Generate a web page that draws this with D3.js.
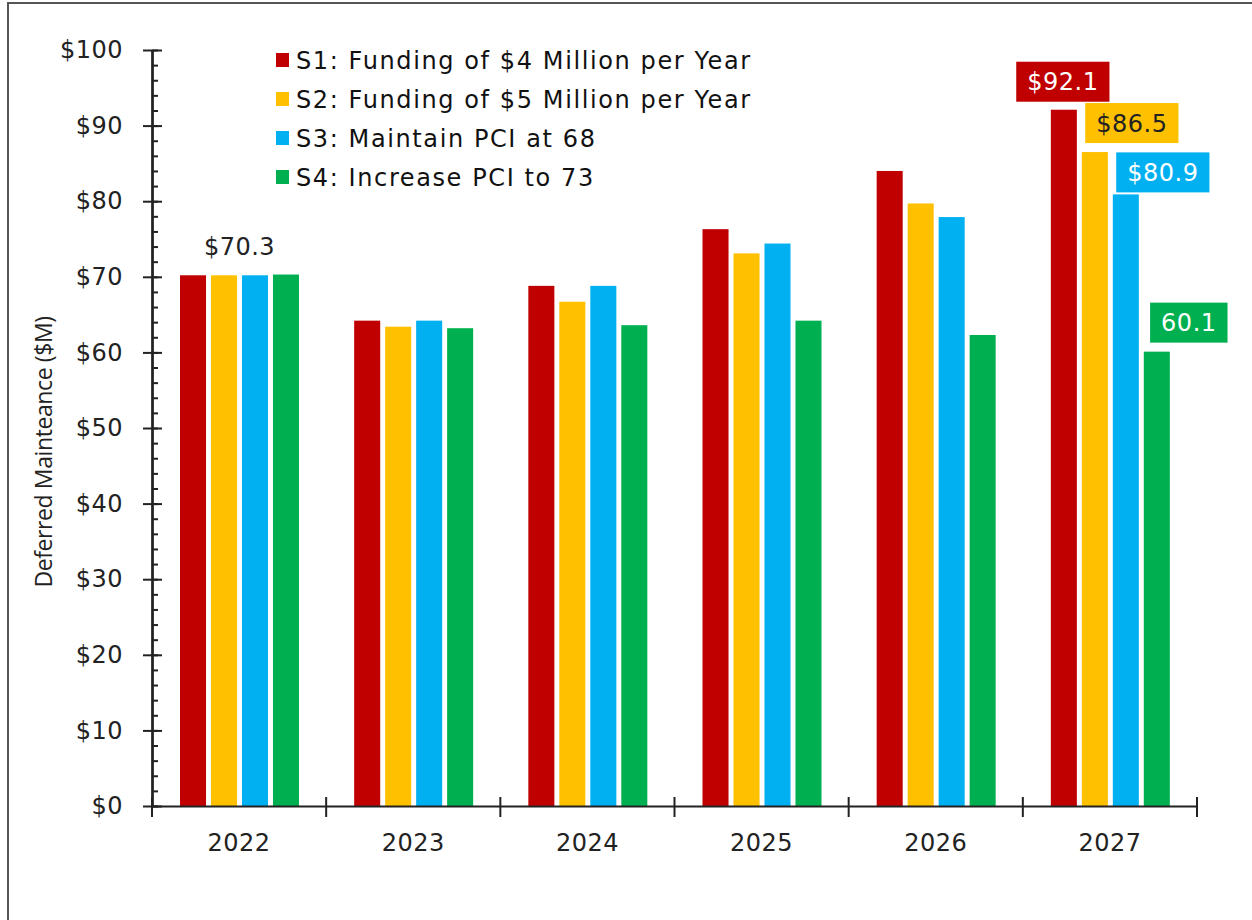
<!DOCTYPE html>
<html>
<head>
<meta charset="utf-8">
<script src="https://cdn.jsdelivr.net/npm/d3@7"></script>
<style>
  html, body { margin: 0; padding: 0; background: #fff; }
  svg { display: block; }
  .tick text { font-family: "DejaVu Sans", Verdana, sans-serif; }
</style>
</head>
<body>
<svg id="chart" width="1252" height="920"></svg>
<script>
// data
var years = ["2022", "2023", "2024", "2025", "2026", "2027"];
var seriesNames = ["S1: Funding of $4 Million per Year",
                   "S2: Funding of $5 Million per Year",
                   "S3: Maintain PCI at 68",
                   "S4: Increase PCI to 73"];
var s1 = [70.2, 64.2, 68.8, 76.3, 84.0, 92.1];
var s2 = [70.2, 63.4, 66.7, 73.1, 79.7, 86.5];
var s3 = [70.2, 64.2, 68.8, 74.4, 77.9, 80.9];
var s4 = [70.3, 63.2, 63.6, 64.2, 62.3, 60.1];
var yTicks = [0, 10, 20, 30, 40, 50, 60, 70, 80, 90, 100];
var yMinorTicks = d3.range(0, 101, 2);
var yTitle = "Deferred Mainteance ($M)";

// callout boxes on the last year
var callouts = [
  {series: 0, year: "2027", text: "$92.1"},
  {series: 1, year: "2027", text: "$86.5"},
  {series: 2, year: "2027", text: "$80.9"},
  {series: 3, year: "2027", text: "60.1"}
];
var plainLabel = {series: 3, year: "2022", text: "$70.3"};

var colors = ["#c00000", "#ffc000", "#00b0f0", "#00b050"];
var calloutText = ["#fff", "#222", "#fff", "#fff"];
// hand placement of the callouts (offset from bar top centre)
var calloutShift = [{dx: -1, dy: -28}, {dx: 37, dy: -29}, {dx: 37, dy: -22}, {dx: 32, dy: -29}];

var allSeries = [s1, s2, s3, s4];
var font = '"DejaVu Sans", Verdana, sans-serif';

var svg = d3.select("#chart");

// outer frame
svg.append("rect")
  .attr("x", 8).attr("y", 3)
  .attr("width", 1300).attr("height", 1000)
  .attr("fill", "none").attr("stroke", "#555").attr("stroke-width", 2);

var x = d3.scaleBand().domain(years).range([152, 1197]);
var xs = d3.scaleBand().domain(d3.range(4)).range([28, 147]).paddingInner(0.16);
var y = d3.scaleLinear().domain([0, 100]).range([806, 50]);

// bars
var groups = svg.selectAll("g.year")
  .data(years)
  .enter().append("g")
  .attr("class", "year")
  .attr("transform", function(d) { return "translate(" + x(d) + ",0)"; });

groups.selectAll("rect")
  .data(function(d, i) { return allSeries.map(function(s, k) { return {k: k, v: s[i]}; }); })
  .enter().append("rect")
  .attr("x", function(d) { return xs(d.k); })
  .attr("width", xs.bandwidth())
  .attr("y", function(d) { return y(d.v); })
  .attr("height", function(d) { return y(0) - y(d.v); })
  .attr("fill", function(d) { return colors[d.k]; });

// y axis: labels + major ticks left
var yLeft = svg.append("g")
  .attr("transform", "translate(152,0)")
  .call(d3.axisLeft(y).tickValues(yTicks).tickSizeInner(9).tickSizeOuter(0).tickPadding(20)
    .tickFormat(function(d) { return "$" + d; }));
// major ticks crossing right
var yRight = svg.append("g")
  .attr("transform", "translate(152,0)")
  .call(d3.axisRight(y).tickValues(yTicks).tickSizeInner(10).tickSizeOuter(0).tickFormat(""));
// minor ticks
var yMinor = svg.append("g")
  .attr("transform", "translate(152,0)")
  .call(d3.axisRight(y).tickValues(yMinorTicks).tickSizeInner(6).tickSizeOuter(0).tickFormat(""));

[yLeft, yRight, yMinor].forEach(function(g) {
  g.selectAll("path.domain").attr("stroke", "#222").attr("stroke-width", 2);
  g.selectAll(".tick line").attr("stroke", "#222").attr("stroke-width", 2);
});
yLeft.selectAll(".tick text")
  .attr("font-size", 24).attr("fill", "#222").style("letter-spacing", "0.5px");

// x axis
var xAxis = svg.append("g")
  .attr("transform", "translate(0,806)")
  .call(d3.axisBottom(x).tickSize(0).tickPadding(28));
xAxis.select("path.domain").attr("stroke", "#222").attr("stroke-width", 2);
xAxis.selectAll(".tick text")
  .attr("font-size", 24).attr("fill", "#222").style("letter-spacing", "0.5px");

var bounds = years.map(function(d) { return x(d); }).concat([x.range()[1]]);
xAxis.selectAll("line.bound")
  .data(bounds)
  .enter().append("line")
  .attr("class", "bound")
  .attr("x1", function(d) { return d; }).attr("x2", function(d) { return d; })
  .attr("y1", -9).attr("y2", 11)
  .attr("stroke", "#222").attr("stroke-width", 2);

// y title
svg.append("text")
  .attr("transform", "translate(52,452) rotate(-90)")
  .attr("text-anchor", "middle")
  .attr("font-family", '"Open Sans", "Noto Sans", sans-serif')
  .attr("font-size", 23)
  .style("letter-spacing", "-0.4px")
  .attr("fill", "#222")
  .text(yTitle);

// legend
var legend = svg.append("g").attr("transform", "translate(276,60)");
var li = legend.selectAll("g")
  .data(seriesNames)
  .enter().append("g")
  .attr("transform", function(d, i) { return "translate(0," + (i * 39) + ")"; });
li.append("rect")
  .attr("x", 0).attr("y", -7).attr("width", 13).attr("height", 14)
  .attr("fill", function(d, i) { return colors[i]; });
li.append("text")
  .attr("x", 20).attr("y", 0).attr("dy", "0.36em")
  .attr("font-family", font).attr("font-size", 24)
  .style("letter-spacing", "1.6px")
  .attr("fill", "#111")
  .text(function(d) { return d; });

// plain label on 2022
svg.append("text")
  .attr("x", x(plainLabel.year) + (xs(0) + xs(3) + xs.bandwidth()) / 2)
  .attr("y", y(allSeries[plainLabel.series][years.indexOf(plainLabel.year)]) - 20)
  .attr("text-anchor", "middle")
  .attr("font-family", font).attr("font-size", 24)
  .style("letter-spacing", "0.5px")
  .attr("fill", "#222")
  .text(plainLabel.text);

// callout boxes
callouts.forEach(function(c) {
  var v = allSeries[c.series][years.indexOf(c.year)];
  var cx = x(c.year) + xs(c.series) + xs.bandwidth() / 2 + calloutShift[c.series].dx;
  var cy = y(v) + calloutShift[c.series].dy;
  var g = svg.append("g").attr("transform", "translate(" + cx + "," + cy + ")");
  var t = g.append("text")
    .attr("text-anchor", "middle").attr("dy", "0.36em")
    .attr("font-family", font).attr("font-size", 24)
    .style("letter-spacing", "0.5px")
    .attr("fill", calloutText[c.series])
    .text(c.text);
  var w = t.node().getComputedTextLength() + 22;
  g.insert("rect", "text")
    .attr("x", -w / 2).attr("y", -20)
    .attr("width", w).attr("height", 40)
    .attr("fill", colors[c.series]);
});
</script>
</body>
</html>
